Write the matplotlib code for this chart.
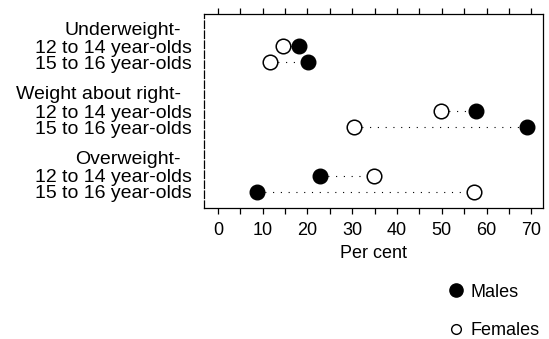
import matplotlib
matplotlib.use("Agg")
import matplotlib.pyplot as plt
from matplotlib.lines import Line2D
from matplotlib.transforms import blended_transform_factory, ScaledTranslation

plt.rcParams["font.family"] = ["Liberation Sans", "DejaVu Sans"]

groups = ["Underweight-", "Weight about right-", "Overweight-"]
ages = ["12 to 14 year-olds", "15 to 16 year-olds"]

# per cent, rows in order: group by group, younger then older
males = [18.0, 20.2, 57.6, 69.0, 22.8, 8.7]
females = [14.5, 11.6, 49.8, 30.4, 34.9, 57.3]

xticks = [0, 10, 20, 30, 40, 50, 60, 70]

fig = plt.figure(figsize=(5.49, 3.39), dpi=100)
ax = fig.add_axes([0.3716, 0.386, 0.6175, 0.573])

# each group takes a header slot, two data rows and a blank slot
row_y = []
header_y = []
for g in range(len(groups)):
    header_y.append(g * 4)
    row_y.extend([g * 4 + 1, g * 4 + 2])

for y, m, f in zip(row_y, males, females):
    ax.plot([min(m, f), max(m, f)], [y, y], color="black", lw=0.8,
            linestyle=(0, (1, 6)), zorder=1)

ax.plot(males, row_y, "o", color="black", markersize=10.5, zorder=3)
ax.plot(females, row_y, "o", markerfacecolor="white", markeredgecolor="black",
        markeredgewidth=1.1, markersize=10.5, zorder=3)

ax.set_xlim(-3.1, 72.6)
ax.set_ylim(11, -1)

ax.set_yticks(row_y)
ax.set_yticklabels(ages * len(groups), fontsize=14)
ax.tick_params(axis="y", length=0, pad=9)

trans = blended_transform_factory(ax.transAxes, ax.transData) + \
    ScaledTranslation(-23 / 100, 0, fig.dpi_scale_trans)
for y, name in zip(header_y, groups):
    ax.text(0, y, name, transform=trans, ha="right", va="center", fontsize=14)

ax.set_xticks(xticks)
ax.set_xticklabels([str(v) for v in xticks], fontsize=13)
ax.set_xticks(range(0, 71, 5), minor=True)
ax.tick_params(axis="x", which="both", direction="out", length=4, width=0.9,
               top=True, pad=6)
ax.set_xlabel("Per cent", fontsize=13, labelpad=4)

for s in ax.spines.values():
    s.set_linewidth(0.9)
ax.spines["left"].set_linestyle((0, (6, 2)))

handles = [
    Line2D([], [], marker="o", linestyle="none", color="black", markersize=9.5),
    Line2D([], [], marker="o", linestyle="none", markerfacecolor="white",
           markeredgecolor="black", markeredgewidth=1.0, markersize=7),
]
fig.legend(handles, ["Males", "Females"], loc="upper left",
           bbox_to_anchor=(0.805, 0.185), bbox_transform=fig.transFigure,
           frameon=False, fontsize=13, handlelength=0.8, handletextpad=0.4,
           labelspacing=1.2, borderaxespad=0)

fig.savefig("out.png", dpi=100)
